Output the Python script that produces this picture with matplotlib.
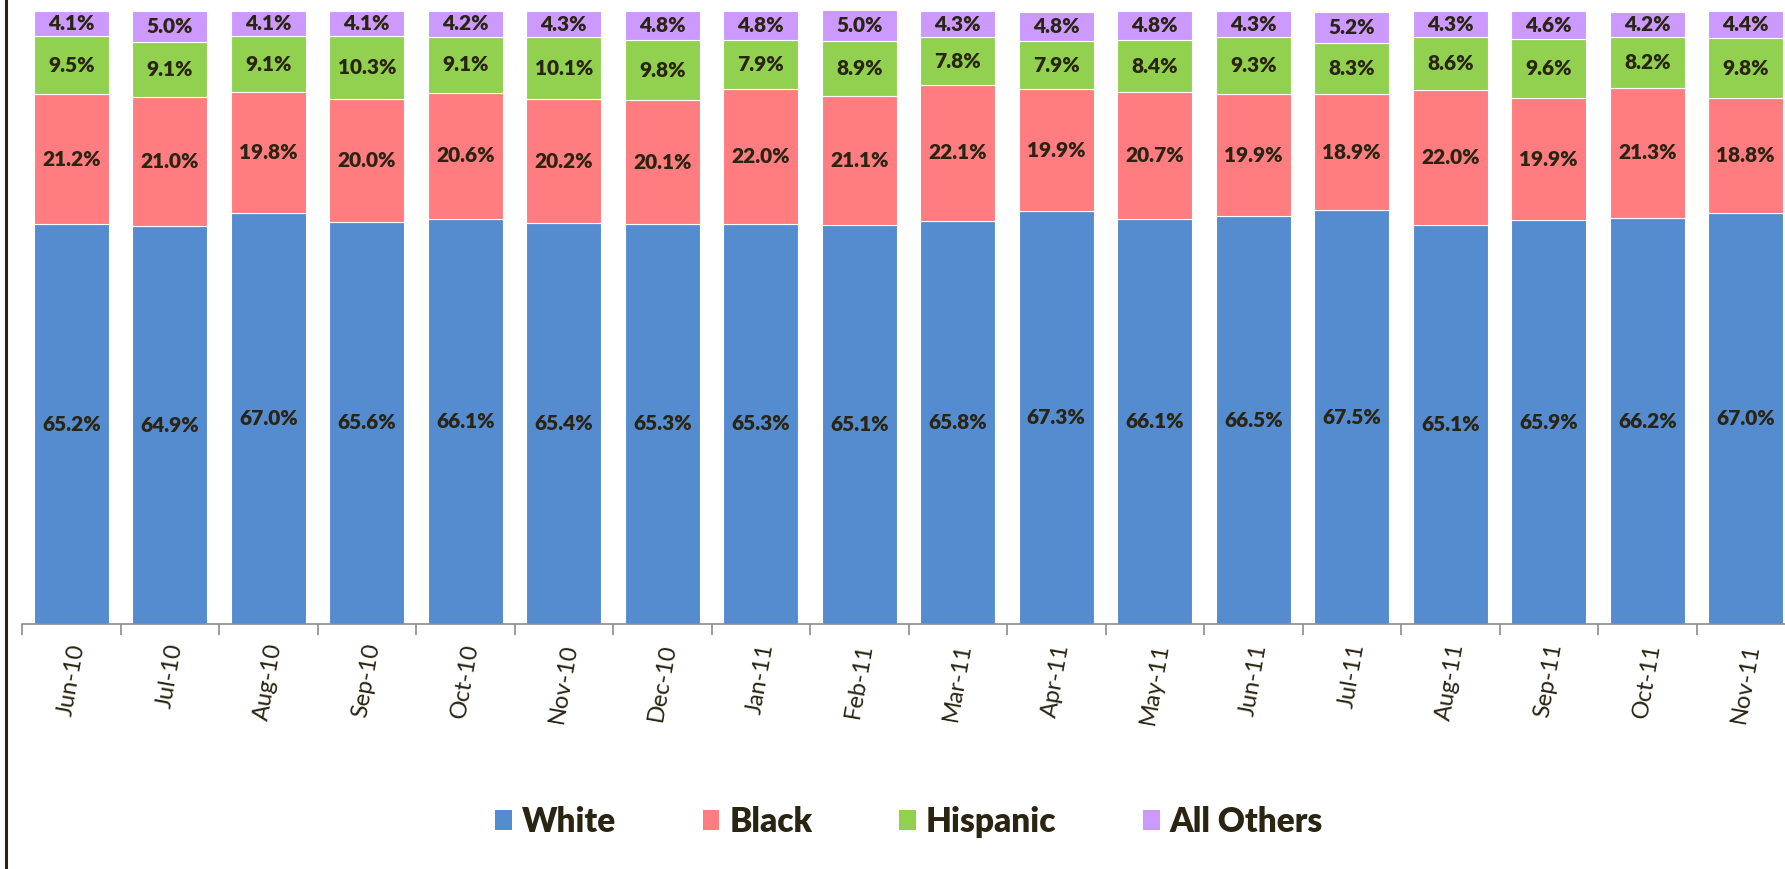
import numpy as np
import matplotlib
matplotlib.use("Agg")
import matplotlib.pyplot as plt
from matplotlib.patches import Patch
from matplotlib.lines import Line2D

plt.rcParams['font.family'] = ['Lato', 'DejaVu Sans']

# данные: доли групп по месяцам (%)
months = ['Jun-10', 'Jul-10', 'Aug-10', 'Sep-10', 'Oct-10', 'Nov-10', 'Dec-10', 'Jan-11', 'Feb-11',
          'Mar-11', 'Apr-11', 'May-11', 'Jun-11', 'Jul-11', 'Aug-11', 'Sep-11', 'Oct-11', 'Nov-11']
white = [65.2, 64.9, 67.0, 65.6, 66.1, 65.4, 65.3, 65.3, 65.1, 65.8, 67.3, 66.1, 66.5, 67.5, 65.1, 65.9, 66.2, 67.0]
black = [21.2, 21.0, 19.8, 20.0, 20.6, 20.2, 20.1, 22.0, 21.1, 22.1, 19.9, 20.7, 19.9, 18.9, 22.0, 19.9, 21.3, 18.8]
hispanic = [9.5, 9.1, 9.1, 10.3, 9.1, 10.1, 9.8, 7.9, 8.9, 7.8, 7.9, 8.4, 9.3, 8.3, 8.6, 9.6, 8.2, 9.8]
others = [4.1, 5.0, 4.1, 4.1, 4.2, 4.3, 4.8, 4.8, 5.0, 4.3, 4.8, 4.8, 4.3, 5.2, 4.3, 4.6, 4.2, 4.4]

series = [('White', white, '#558BCF'), ('Black', black, '#FF7C80'),
          ('Hispanic', hispanic, '#92D050'), ('All Others', others, '#CC99FF')]
text_color = '#2A2412'

fig = plt.figure(figsize=(17.85, 8.69), dpi=100)
W, H = 1785, 869
ax = fig.add_axes([22 / W, 245 / H, 18 * 98.5 / W, 613 / H])

x = np.arange(len(months))
bottom = np.zeros(len(months))
for name, vals, col in series:
    vals = np.array(vals)
    ax.bar(x, vals, 0.76, bottom=bottom, color=col, edgecolor='white', linewidth=0.8, label=name)
    for xi, b, v in zip(x, bottom, vals):
        ax.text(xi, b + v / 2, f'{v:.1f}%', ha='center', va='center',
                fontsize=15, fontweight='heavy', color=text_color)
    bottom += vals

ax.set_xlim(-0.5, len(months) - 0.5)
ax.set_ylim(0, 100)
ax.set_yticks([])
for s in ['top', 'right', 'left']:
    ax.spines[s].set_visible(False)
ax.spines['bottom'].set_color('#8C8C8C')
ax.spines['bottom'].set_linewidth(1.2)

ax.set_xticks(x)
ax.set_xticklabels(months, rotation=80, fontsize=17, color=text_color, ha='center', va='top')
ax.tick_params(axis='x', which='major', length=0, pad=13)
ax.set_xticks(np.arange(len(months) + 1) - 0.5, minor=True)
ax.tick_params(axis='x', which='minor', length=8, color='#8C8C8C', width=1.2)

# рамка слева
fig.add_artist(Line2D([6 / W, 6 / W], [0, 1], color='#2A2412', linewidth=2.2, transform=fig.transFigure))

handles = [Patch(facecolor=c, edgecolor='none') for _, _, c in series]
fig.legend(handles, [n for n, _, _ in series], loc='center', bbox_to_anchor=(909 / W, 1 - 822 / H),
           ncol=4, frameon=False, handlelength=0.5, handleheight=0.55, handletextpad=0.3,
           columnspacing=2.6, prop={'size': 24, 'weight': 'heavy'}, labelcolor=text_color)

plt.savefig('out.png', dpi=100)
